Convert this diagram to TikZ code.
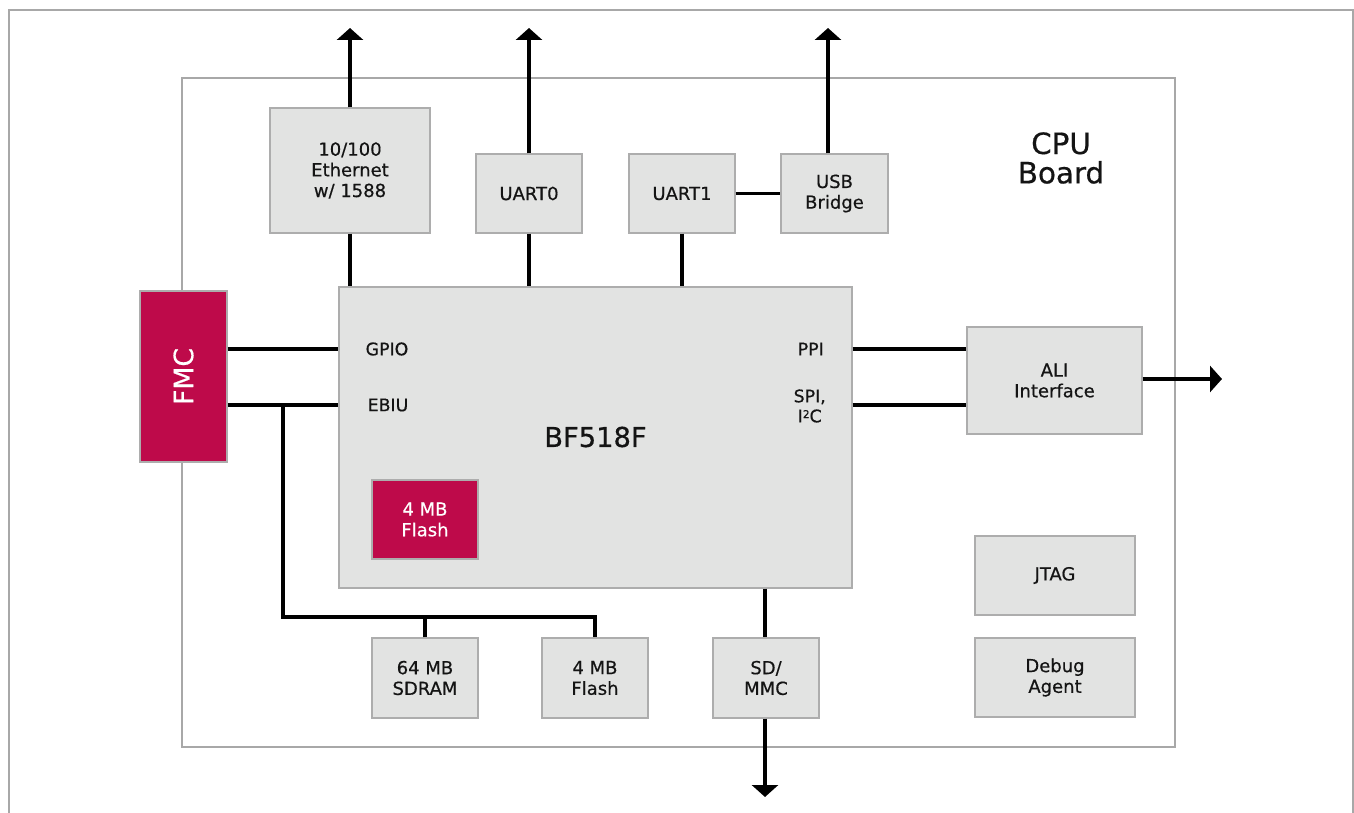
\documentclass[tikz,border=0pt]{standalone}
\usepackage{fontspec}
\setmainfont{DejaVu Sans}[FakeBold=0.5]
\usetikzlibrary{arrows.meta}
\definecolor{boxgray}{HTML}{E2E3E2}
\definecolor{boxedge}{HTML}{ADADAD}
\definecolor{frame}{HTML}{A8A8A8}
\definecolor{magenta}{HTML}{BE0A4A}
\definecolor{ink}{HTML}{141414}
\tikzset{
  gbox/.style={draw=boxedge, line width=1.1pt, fill=boxgray, inner sep=0pt, align=center, text=ink,
    font=\fontsize{13.5pt}{15.5pt}\selectfont},
  mbox/.style={draw=boxedge, line width=1.1pt, fill=magenta, text=white, inner sep=0pt, align=center,
    font=\fontsize{13.5pt}{15.5pt}\selectfont},
  conn/.style={line width=2.3pt, black},
  outarrow/.style={conn, -{Triangle[length=9pt, width=19.5pt]}},
  framel/.style={draw=frame, line width=1pt},
  lbl/.style={inner sep=0pt, text=ink, font=\fontsize{13pt}{15pt}\selectfont, align=center},
}
\begin{document}
\begin{tikzpicture}[x=0.75pt, y=-0.75pt]
\useasboundingbox (0,0) rectangle (1354,813);
% outer frame (open at the bottom)
\draw[framel] (9,813) -- (9,10) -- (1353,10) -- (1353,813);
% CPU board
\draw[framel] (182,78) rectangle (1175,747);
\node[lbl, font=\fontsize{22pt}{22pt}\selectfont] (cpu) at (1061,158) {CPU\\Board};

% boxes
\node[gbox, minimum width=120pt, minimum height=93.75pt] (eth) at (350,170.5) {10/100\\Ethernet\\w/ 1588};
\node[gbox, minimum width=79.5pt, minimum height=59.25pt] (uart0) at (529,193.5) {UART0};
\node[gbox, minimum width=79.5pt, minimum height=59.25pt] (uart1) at (682,193.5) {UART1};
\node[gbox, minimum width=80.25pt, minimum height=59.25pt] (usb) at (834.5,193.5) {USB\\Bridge};
\node[gbox, minimum width=384.75pt, minimum height=225.75pt] (bf) at (595.5,437.5) {};
\node[inner sep=0pt, text=ink, font=\fontsize{20.5pt}{20.5pt}\selectfont] (bfl) at (595.5,437) {BF518F};
\node[mbox, minimum width=65.25pt, minimum height=128.25pt] (fmc) at (183.5,376.5) {};
\node[inner sep=0pt, text=white, rotate=90, font=\fontsize{20pt}{20pt}\selectfont] (fmcl) at (183.5,376.5) {FMC};
\node[gbox, minimum width=131.25pt, minimum height=80.25pt] (ali) at (1054.5,380.5) {ALI\\Interface};
\node[mbox, minimum width=79.5pt, minimum height=59.25pt] (iflash) at (425,519.5) {4 MB\\Flash};
\node[gbox, minimum width=120pt, minimum height=59.25pt] (jtag) at (1055,575.5) {JTAG};
\node[gbox, minimum width=120pt, minimum height=59.25pt] (dbg) at (1055,677.5) {Debug\\Agent};
\node[gbox, minimum width=79.5pt, minimum height=60pt] (sdram) at (425,678) {64 MB\\SDRAM};
\node[gbox, minimum width=79.5pt, minimum height=60pt] (flash) at (595,678) {4 MB\\Flash};
\node[gbox, minimum width=79.5pt, minimum height=60pt] (sd) at (766,678) {SD/\\MMC};

% port labels inside BF518F
\node[lbl] (gpio) at (387,349) {GPIO};
\node[lbl] (ebiu) at (388,405) {EBIU};
\node[lbl, anchor=east] (ppi) at (824,349) {PPI};
\node[lbl, anchor=east] (spi) at (826,406) {SPI,\\I\raisebox{0.45ex}{\fontsize{8pt}{8pt}\selectfont 2}C};

% coordinates
\coordinate (rowa) at (0,349);
\coordinate (rowb) at (0,405);
\coordinate (bus) at (283,617);
\coordinate (busj) at (283,405);
\coordinate (ethout) at (350,28);
\coordinate (u0out) at (529,28);
\coordinate (usbout) at (828,28);
\coordinate (usbx) at (828,0);
\coordinate (aliout) at (1222,379);
\coordinate (sdx) at (765,0);
\coordinate (sdout) at (765,797);

% connectors
\draw[conn] (eth.south) -- (eth.south |- bf.north);
\draw[conn] (uart0.south) -- (uart0.south |- bf.north);
\draw[conn] (uart1.south) -- (uart1.south |- bf.north);
\draw[conn] (uart1.east) -- (usb.west);
\draw[conn] (fmc.east |- rowa) -- (bf.west |- rowa);
\draw[conn] (fmc.east |- rowb) -- (bf.west |- rowb);
\draw[conn] (busj) -- (bus) -| (flash.north);
\draw[conn] (sdram.north) -- (sdram.north |- bus);
\draw[conn] (bf.east |- rowa) -- (ali.west |- rowa);
\draw[conn] (bf.east |- rowb) -- (ali.west |- rowb);
\draw[conn] (sdx |- bf.south) -- (sdx |- sd.north);

% outgoing arrows
\draw[outarrow] (eth.north) -- (ethout);
\draw[outarrow] (uart0.north) -- (u0out);
\draw[outarrow] (usbx |- usb.north) -- (usbout);
\draw[outarrow] (ali.east |- aliout) -- (aliout);
\draw[outarrow] (sdx |- sd.south) -- (sdout);
\end{tikzpicture}
\end{document}
